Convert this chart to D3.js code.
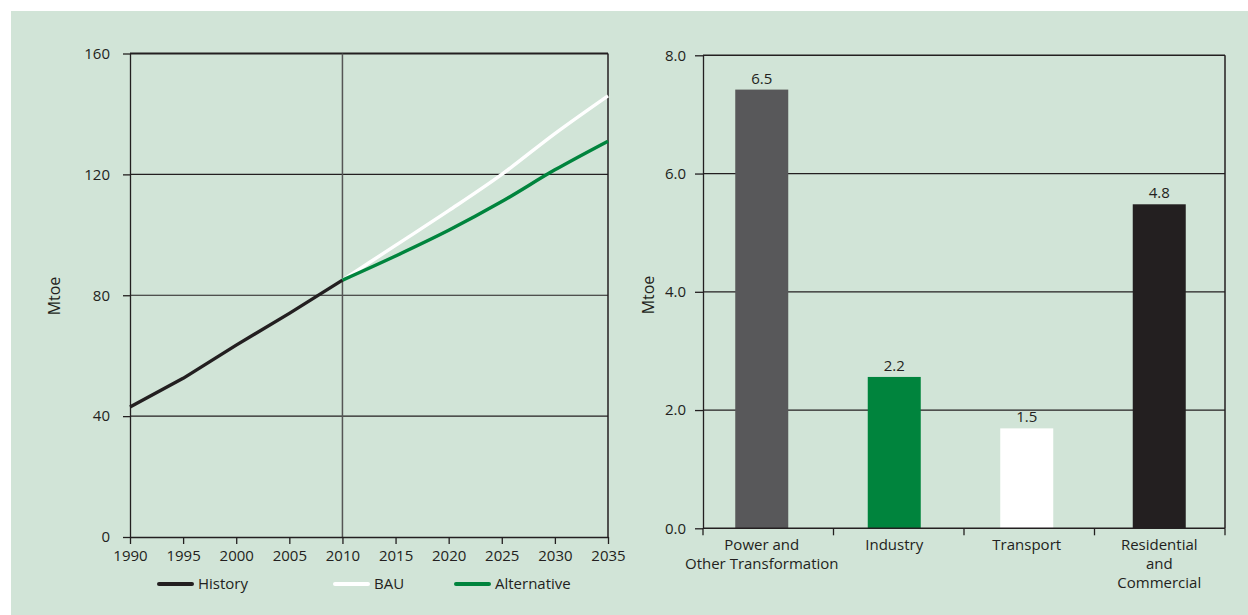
<!DOCTYPE html>
<html>
<head>
<meta charset="utf-8">
<script src="https://cdn.jsdelivr.net/npm/d3@7"></script>
<style>
  body { margin: 0; background: #fff; }
  text { font-family: "Open Sans", sans-serif; fill: #231f20; }
</style>
</head>
<body>
<svg id="chart" width="1248" height="615"></svg>
<script>
// ---- data ----
const years = [1990, 1995, 2000, 2005, 2010, 2015, 2020, 2025, 2030, 2035]
const historyYears = [1990, 1995, 2000, 2005, 2010]
const historyVals = [43, 52.5, 63.5, 74, 85]
const scenarioYears = [2010, 2015, 2020, 2025, 2030, 2035]
const bauVals = [85, 96.5, 108, 120, 133.5, 146]
const altVals = [85, 93, 101.5, 111, 121.5, 131]
const lineTicks = [0, 40, 80, 120, 160]
const legendNames = ['History', 'BAU', 'Alternative']

const sectors = [['Power and', 'Other Transformation'], ['Industry'], ['Transport'], ['Residential', 'and', 'Commercial']]
const barVals = [7.42, 2.56, 1.69, 5.48] // bar heights as drawn
const barLabels = ['6.5', '2.2', '1.5', '4.8'] // printed labels
const barTicks = [0, 2, 4, 6, 8]

// ---- styles ----
const ink = '#231f20'
const lineColors = { History: ink, BAU: '#ffffff', Alternative: '#00843d' }
const barColors = ['#58585a', '#00843d', '#ffffff', '#231f20']

const svg = d3.select('#chart')

svg.append('rect')
  .attr('x', 11).attr('y', 11)
  .attr('width', 1237).attr('height', 604)
  .attr('fill', '#d1e4d7')

// ================= left: line chart =================
const L = { left: 130, right: 608, top: 53.5, bottom: 537 }
const xL = d3.scaleLinear().domain([1990, 2035]).range([L.left, L.right])
const yL = d3.scaleLinear().domain([0, 160]).range([L.bottom, L.top])
const gL = svg.append('g')

// horizontal grid
gL.selectAll('line.grid')
  .data(lineTicks.filter(d => d > 0))
  .enter().append('line')
  .attr('class', 'grid')
  .attr('x1', L.left).attr('x2', L.right)
  .attr('y1', d => yL(d)).attr('y2', d => yL(d))
  .attr('stroke', ink)
  .attr('stroke-width', d => d === 160 ? 2.2 : 1.2)

// 2010 divider and right frame
gL.append('line')
  .attr('x1', xL(2010)).attr('x2', xL(2010))
  .attr('y1', L.top).attr('y2', L.bottom)
  .attr('stroke', '#555').attr('stroke-width', 1.5)
gL.append('line')
  .attr('x1', L.right).attr('x2', L.right)
  .attr('y1', L.top).attr('y2', L.bottom)
  .attr('stroke', ink).attr('stroke-width', 1.5)

const axL = gL.append('g')
  .attr('transform', `translate(${L.left},0)`)
  .call(d3.axisLeft(yL).tickValues(lineTicks).tickSize(7).tickSizeOuter(0).tickPadding(13))
const axB = gL.append('g')
  .attr('transform', `translate(0,${L.bottom})`)
  .call(d3.axisBottom(xL).tickValues(years).tickFormat(d3.format('d')).tickSize(7).tickSizeOuter(0).tickPadding(6))

;[axL, axB].forEach(ax => {
  ax.selectAll('path, line').attr('stroke', ink).attr('stroke-width', 1.3)
  ax.selectAll('text').attr('fill', ink).style('font-size', '15px').style('font-family', '"Open Sans", sans-serif')
})

const lineSmooth = d3.line()
  .x(d => xL(d[0]))
  .y(d => yL(d[1]))
  .curve(d3.curveMonotoneX)
const lineStraight = d3.line()
  .x(d => xL(d[0]))
  .y(d => yL(d[1]))

const series = [
  { name: 'BAU', pts: d3.zip(scenarioYears, bauVals), gen: lineSmooth },
  { name: 'Alternative', pts: d3.zip(scenarioYears, altVals), gen: lineSmooth },
  { name: 'History', pts: d3.zip(historyYears, historyVals), gen: lineStraight }
]
gL.selectAll('path.series')
  .data(series)
  .enter().append('path')
  .attr('class', 'series')
  .attr('d', d => d.gen(d.pts))
  .attr('fill', 'none')
  .attr('stroke', d => lineColors[d.name])
  .attr('stroke-width', 3.4)
  .attr('stroke-linejoin', 'round')

svg.append('text')
  .attr('transform', 'translate(54,296) rotate(-90)')
  .attr('text-anchor', 'middle')
  .attr('dy', '0.35em')
  .style('font-size', '16px')
  .text('Mtoe')

// legend
const legendX = [159, 335, 456]
const legendY = 584
const lg = svg.append('g').selectAll('g')
  .data(legendNames)
  .enter().append('g')
  .attr('transform', (d, i) => `translate(${legendX[i]},${legendY})`)
lg.append('line')
  .attr('x1', 0).attr('x2', 33)
  .attr('stroke', d => lineColors[d])
  .attr('stroke-width', 4)
  .attr('stroke-linecap', 'round')
lg.append('text')
  .attr('x', 39)
  .attr('dy', '0.35em')
  .style('font-size', '15px')
  .text(d => d)

// ================= right: bar chart =================
const R = { left: 703, right: 1225, top: 55.3, bottom: 528.3 }
const yR = d3.scaleLinear().domain([0, 8]).range([R.bottom, R.top])
const xR = d3.scaleBand()
  .domain(d3.range(sectors.length))
  .range([R.left - 7.5, R.right + 0.5])
  .paddingInner(0.6)
  .paddingOuter(0.3)
const tickStep = (R.right - R.left) / sectors.length
const gR = svg.append('g')

gR.selectAll('line.grid')
  .data(barTicks.filter(d => d > 0))
  .enter().append('line')
  .attr('class', 'grid')
  .attr('x1', R.left).attr('x2', R.right)
  .attr('y1', d => yR(d)).attr('y2', d => yR(d))
  .attr('stroke', ink)
  .attr('stroke-width', d => d === 8 ? 1.6 : 1.2)

gR.append('line')
  .attr('x1', R.right).attr('x2', R.right)
  .attr('y1', R.top).attr('y2', R.bottom)
  .attr('stroke', ink).attr('stroke-width', 1.5)

gR.selectAll('rect.bar')
  .data(barVals)
  .enter().append('rect')
  .attr('class', 'bar')
  .attr('x', (d, i) => xR(i))
  .attr('width', xR.bandwidth())
  .attr('y', d => yR(d))
  .attr('height', d => yR(0) - yR(d))
  .attr('fill', (d, i) => barColors[i])

gR.selectAll('text.val')
  .data(barVals)
  .enter().append('text')
  .attr('class', 'val')
  .attr('x', (d, i) => xR(i) + xR.bandwidth() / 2)
  .attr('y', d => yR(d) - 6)
  .attr('text-anchor', 'middle')
  .style('font-size', '15px')
  .text((d, i) => barLabels[i])

const axR = gR.append('g')
  .attr('transform', `translate(${R.left},0)`)
  .call(d3.axisLeft(yR).tickValues(barTicks).tickFormat(d3.format('.1f')).tickSize(8).tickSizeOuter(0).tickPadding(9))
axR.selectAll('path, line').attr('stroke', ink).attr('stroke-width', 1.3)
axR.selectAll('text').attr('fill', ink).style('font-size', '15px').style('font-family', '"Open Sans", sans-serif')

// category axis: frame line, boundary ticks, labels under the bars
gR.append('line')
  .attr('x1', R.left).attr('x2', R.right)
  .attr('y1', R.bottom).attr('y2', R.bottom)
  .attr('stroke', ink).attr('stroke-width', 1.5)
gR.selectAll('line.ctick')
  .data(d3.range(sectors.length + 1))
  .enter().append('line')
  .attr('class', 'ctick')
  .attr('x1', i => R.left + i * tickStep).attr('x2', i => R.left + i * tickStep)
  .attr('y1', R.bottom).attr('y2', R.bottom + 7)
  .attr('stroke', ink).attr('stroke-width', 1.3)

const cat = gR.selectAll('text.cat')
  .data(sectors)
  .enter().append('text')
  .attr('class', 'cat')
  .attr('text-anchor', 'middle')
  .attr('y', 550)
  .style('font-size', '15px')
cat.selectAll('tspan')
  .data((d, i) => d.map(t => ({ t, i })))
  .enter().append('tspan')
  .attr('x', d => xR(d.i) + xR.bandwidth() / 2)
  .attr('dy', (d, j) => j === 0 ? 0 : 19)
  .text(d => d.t)

svg.append('text')
  .attr('transform', 'translate(648,295) rotate(-90)')
  .attr('text-anchor', 'middle')
  .attr('dy', '0.35em')
  .style('font-size', '16px')
  .text('Mtoe')
</script>
</body>
</html>
